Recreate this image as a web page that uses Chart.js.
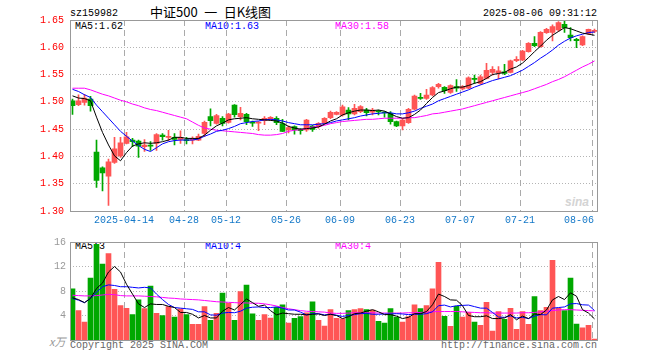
<!DOCTYPE html>
<html>
<head>
<meta charset="utf-8">
<script src="https://cdn.jsdelivr.net/npm/chart.js@4.4.1/dist/chart.umd.min.js"></script>
<style>
body { margin: 0; background: #fff; }
#wrap { position: relative; width: 660px; height: 360px; overflow: hidden; font-family: "Liberation Mono", monospace; font-size: 10px; }
canvas { position: absolute; left: 0; }
.t { position: absolute; white-space: pre; line-height: 10px; }
</style>
</head>
<body>
<div id="wrap">
  <div class="t" style="left:70px;top:9px">sz159982</div>
  <div class="t" style="left:150px;top:5px;font:13px/13px 'Noto Sans CJK SC',sans-serif">中证500&ensp;一&ensp;日K线图</div>
  <div class="t" style="left:483px;top:9px">2025-08-06 09:31:12</div>
  <div class="t" style="left:75px;top:22px;color:#000">MA5:1.62</div>
  <div class="t" style="left:205px;top:22px;color:#00f">MA10:1.63</div>
  <div class="t" style="left:335px;top:22px;color:#f0f">MA30:1.58</div>
  <div class="t" style="left:565px;top:196px;color:#d4d4d4;font:bold italic 12px/12px 'Liberation Sans',sans-serif">sina</div>
  <div class="t" style="left:75px;top:242px;color:#000">MA5:3</div>
  <div class="t" style="left:205px;top:242px;color:#00f">MA10:4</div>
  <div class="t" style="left:335px;top:242px;color:#f0f">MA30:4</div>
  <div class="t" style="left:49px;top:336px;color:#999;font:italic 11px/11px 'Noto Sans CJK SC',serif">x万</div>
  <div class="t" style="left:70px;top:341px;color:#666">Copyright 2025 SINA.COM</div>
  <div class="t" style="left:441px;top:341px;color:#666">http://finance.sina.com.cn</div>
  <canvas id="price" width="660" height="235" style="top:0"></canvas>
  <canvas id="vol" width="660" height="128" style="top:232px"></canvas>
</div>
<script>
const dates = ['2025-03-31','2025-04-01','2025-04-02','2025-04-03','2025-04-07','2025-04-08','2025-04-09','2025-04-10','2025-04-11','2025-04-14',
  '2025-04-15','2025-04-16','2025-04-17','2025-04-18','2025-04-21','2025-04-22','2025-04-23','2025-04-24','2025-04-25','2025-04-28',
  '2025-04-29','2025-04-30','2025-05-06','2025-05-07','2025-05-08','2025-05-09','2025-05-12','2025-05-13','2025-05-14','2025-05-15',
  '2025-05-16','2025-05-19','2025-05-20','2025-05-21','2025-05-22','2025-05-23','2025-05-26','2025-05-27','2025-05-28','2025-05-29',
  '2025-05-30','2025-06-03','2025-06-04','2025-06-05','2025-06-06','2025-06-09','2025-06-10','2025-06-11','2025-06-12','2025-06-13',
  '2025-06-16','2025-06-17','2025-06-18','2025-06-19','2025-06-20','2025-06-23','2025-06-24','2025-06-25','2025-06-26','2025-06-27',
  '2025-06-30','2025-07-01','2025-07-02','2025-07-03','2025-07-04','2025-07-07','2025-07-08','2025-07-09','2025-07-10','2025-07-11',
  '2025-07-14','2025-07-15','2025-07-16','2025-07-17','2025-07-18','2025-07-21','2025-07-22','2025-07-23','2025-07-24','2025-07-25',
  '2025-07-28','2025-07-29','2025-07-30','2025-07-31','2025-08-01','2025-08-04','2025-08-05','2025-08-06']

const tickDates = ['2025-04-14','2025-04-28','2025-05-12','2025-05-26','2025-06-09','2025-06-23','2025-07-07','2025-07-21','2025-08-06']

const opens = [1.502,1.495,1.499,1.505,1.408,1.379,1.364,1.389,1.401,1.424,
  1.430,1.428,1.418,1.421,1.424,1.439,1.435,1.435,1.431,1.431,
  1.430,1.430,1.442,1.4728,1.4606,1.470,1.4624,1.494,1.473,1.477,
  1.4625,1.461,1.4655,1.4686,1.470,1.460,1.4484,1.4545,1.4497,1.4484,
  1.4557,1.4545,1.4607,1.471,1.477,1.476,1.485,1.4777,1.482,1.485,
  1.481,1.4825,1.4805,1.479,1.4637,1.456,1.4618,1.4864,1.5074,1.5064,
  1.5126,1.5278,1.5266,1.5174,1.528,1.5236,1.525,1.543,1.534,1.543,
  1.554,1.553,1.555,1.554,1.5755,1.5767,1.592,1.6073,1.6012,1.6268,
  1.6274,1.6317,1.642,1.6225,1.6146,1.6042,1.6256,1.629]
const closes = [1.493,1.502,1.507,1.493,1.356,1.370,1.390,1.414,1.425,1.436,
  1.427,1.419,1.421,1.419,1.440,1.436,1.437,1.431,1.435,1.429,
  1.432,1.437,1.4625,1.4655,1.4747,1.4606,1.4777,1.4765,1.479,1.4636,
  1.461,1.462,1.470,1.4716,1.462,1.446,1.4527,1.4484,1.4472,1.4667,
  1.4497,1.4607,1.470,1.4808,1.4808,1.491,1.4777,1.488,1.4912,1.480,
  1.485,1.4815,1.4795,1.4637,1.456,1.4667,1.4864,1.5107,1.5064,1.5126,
  1.526,1.532,1.5205,1.5297,1.525,1.528,1.544,1.541,1.546,1.558,
  1.5596,1.557,1.552,1.575,1.578,1.593,1.6073,1.603,1.6274,1.6329,
  1.6378,1.6451,1.636,1.6176,1.6122,1.6195,1.6329,1.631]
const highs = [1.505,1.513,1.514,1.510,1.430,1.381,1.395,1.435,1.435,1.444,
  1.433,1.430,1.431,1.427,1.442,1.442,1.448,1.442,1.447,1.435,
  1.436,1.441,1.465,1.487,1.477,1.473,1.479,1.495,1.490,1.479,
  1.465,1.464,1.473,1.473,1.473,1.468,1.456,1.456,1.451,1.468,
  1.457,1.462,1.471,1.483,1.482,1.4943,1.4893,1.4954,1.493,1.488,
  1.488,1.485,1.482,1.482,1.465,1.4685,1.488,1.5126,1.5156,1.523,
  1.528,1.534,1.5278,1.531,1.541,1.530,1.546,1.549,1.549,1.5706,
  1.5645,1.5645,1.5687,1.5765,1.5828,1.5945,1.6085,1.6195,1.6286,1.6348,
  1.641,1.647,1.6488,1.636,1.6164,1.621,1.6335,1.6335]
const lows = [1.477,1.493,1.494,1.483,1.343,1.337,1.310,1.387,1.398,1.423,
  1.418,1.398,1.409,1.411,1.411,1.430,1.429,1.421,1.424,1.423,
  1.423,1.429,1.436,1.456,1.459,1.456,1.461,1.472,1.467,1.458,
  1.455,1.447,1.458,1.466,1.458,1.4453,1.443,1.441,1.441,1.446,
  1.446,1.452,1.459,1.469,1.476,1.474,1.4667,1.476,1.480,1.4741,
  1.476,1.476,1.472,1.459,1.4545,1.4484,1.4606,1.4852,1.5046,1.5046,
  1.511,1.525,1.5156,1.5156,1.519,1.522,1.524,1.534,1.532,1.542,
  1.549,1.542,1.550,1.553,1.5737,1.5755,1.591,1.6012,1.600,1.6256,
  1.6115,1.629,1.6274,1.6115,1.5993,1.603,1.623,1.627]

const ma5 = [1.511,1.507,1.506,1.502,1.472,1.444,1.421,1.401,1.392,1.407,
  1.419,1.423,1.425,1.424,1.425,1.427,1.430,1.435,1.435,1.433,
  1.433,1.433,1.439,1.448,1.456,1.461,1.467,1.469,1.470,1.471,
  1.469,1.468,1.467,1.466,1.465,1.461,1.455,1.452,1.450,1.451,
  1.452,1.454,1.459,1.465,1.469,1.476,1.480,1.483,1.485,1.485,
  1.484,1.485,1.483,1.478,1.473,1.470,1.471,1.477,1.485,1.497,
  1.508,1.517,1.520,1.524,1.527,1.527,1.530,1.534,1.537,1.543,
  1.550,1.552,1.554,1.560,1.564,1.571,1.581,1.592,1.602,1.613,
  1.622,1.629,1.636,1.634,1.630,1.626,1.624,1.622]
const ma10 = [1.523,1.519,1.513,1.508,1.494,1.482,1.470,1.458,1.446,1.437,
  1.428,1.420,1.413,1.409,1.416,1.423,1.427,1.429,1.430,1.430,
  1.430,1.432,1.437,1.441,1.446,1.448,1.451,1.455,1.460,1.462,
  1.464,1.465,1.467,1.468,1.467,1.465,1.462,1.460,1.458,1.458,
  1.458,1.459,1.460,1.462,1.465,1.467,1.469,1.471,1.474,1.476,
  1.478,1.479,1.480,1.480,1.478,1.478,1.480,1.483,1.488,1.492,
  1.496,1.502,1.506,1.510,1.514,1.518,1.522,1.527,1.531,1.535,
  1.539,1.542,1.545,1.548,1.553,1.558,1.565,1.572,1.580,1.587,
  1.595,1.604,1.611,1.617,1.621,1.624,1.627,1.628]
const ma30 = [1.525,1.525,1.525,1.522,1.518,1.514,1.511,1.507,1.503,1.500,
  1.496,1.493,1.489,1.486,1.484,1.481,1.478,1.475,1.472,1.469,
  1.463,1.457,1.452,1.450,1.448,1.447,1.446,1.445,1.444,1.443,
  1.442,1.440,1.439,1.439,1.440,1.442,1.446,1.448,1.449,1.451,
  1.454,1.455,1.457,1.460,1.462,1.464,1.465,1.466,1.467,1.468,
  1.468,1.469,1.470,1.470,1.470,1.470,1.471,1.471,1.473,1.475,
  1.478,1.479,1.481,1.483,1.485,1.487,1.490,1.493,1.496,1.499,
  1.502,1.505,1.508,1.511,1.514,1.517,1.520,1.524,1.528,1.532,
  1.537,1.541,1.546,1.552,1.558,1.564,1.569,1.575]

// volume, x万
const vol = [8.37,4.8,2.93,10.1,15.6,12.4,14.1,8.27,5.6,5.17,
  4.16,6.56,5.12,8.8,4.37,4.0,5.44,3.73,5.07,4.16,
  2.56,2.56,5.44,3.2,4.37,7.68,5.97,3.2,7.9,8.96,
  4.27,3.2,4.16,3.57,5.33,5.76,2.77,3.52,3.84,4.43,
  6.24,3.2,2.29,4.96,3.52,3.47,4.8,4.96,5.12,4.96,
  4.9,3.06,2.75,5.12,3.73,2.93,3.84,5.76,5.12,5.6,
  8.37,12.7,3.86,2.24,5.5,3.73,4.5,2.93,2.4,6.13,
  1.44,4.64,3.36,5.17,1.76,4.64,2.56,7.09,4.8,5.33,
  13.0,5.17,4.8,10.1,2.61,1.97,2.4,0.16]
const volMa5 = [6.9,6.6,6.1,6.8,8.4,9.3,11.1,12.0,11.1,9.1,
  7.5,5.9,5.3,5.9,5.8,5.8,5.5,5.3,4.5,4.5,
  4.2,3.6,4.0,3.6,3.6,4.7,5.3,4.9,5.8,6.7,
  6.1,5.5,5.7,4.8,4.1,4.4,4.3,4.2,4.2,4.1,
  4.2,4.25,4.0,4.2,4.0,3.5,3.8,4.3,4.4,4.7,
  4.95,4.6,4.15,4.15,3.9,3.5,3.7,4.3,4.3,4.65,
  5.75,7.5,7.1,6.55,6.5,5.6,4.0,3.8,3.8,3.95,
  3.5,3.5,3.6,4.15,3.3,3.9,3.5,4.25,4.15,4.9,
  6.55,7.1,6.6,7.7,7.15,4.95,4.4,3.45]
const volMa10 = [6.8,6.5,6.1,6.8,7.8,8.7,9.0,8.9,8.7,8.7,
  8.6,8.5,8.6,8.5,7.5,6.6,5.8,5.3,5.2,5.1,
  5.0,4.6,4.6,4.1,4.05,4.4,4.5,4.45,4.7,5.2,
  5.35,5.4,5.3,5.3,5.4,5.2,4.9,4.9,4.55,4.1,
  4.3,4.3,4.1,4.2,4.05,3.85,4.0,4.15,4.3,4.35,
  4.2,4.2,4.25,4.25,4.3,4.25,4.15,4.2,4.2,4.3,
  4.6,5.6,5.7,5.4,5.6,5.65,5.7,5.45,5.2,5.2,
  4.5,3.75,3.7,3.95,3.6,3.7,3.5,3.9,4.15,4.1,
  5.2,5.3,5.4,5.9,5.95,5.75,5.7,4.8]
const volMa30 = [7.3,7.25,7.2,7.2,7.25,7.35,7.45,7.4,7.25,7.2,
  7.2,7.2,7.15,7.1,7.05,6.95,6.85,6.8,6.7,6.65,
  6.6,6.55,6.45,6.35,6.25,6.2,6.15,6.1,6.05,6.05,
  6.0,6.0,5.9,5.75,5.55,5.3,5.1,4.95,4.8,4.7,
  4.65,4.6,4.55,4.4,4.35,4.35,4.4,4.45,4.45,4.45,
  4.45,4.4,4.4,4.4,4.4,4.4,4.45,4.45,4.5,4.55,
  4.6,4.65,4.65,4.65,4.65,4.6,4.55,4.5,4.45,4.45,
  4.4,4.4,4.4,4.4,4.4,4.45,4.45,4.5,4.6,4.7,
  4.8,4.9,4.95,4.95,4.9,4.85,4.8,4.75]

const priceLevels = [1.35, 1.40, 1.45, 1.50, 1.55, 1.60]
const volLevels = [4, 8, 12]

const RED = '#ff5555'
const GREEN = '#00a800'
const FONT = { family: "'Liberation Mono', monospace", size: 10 }
// candle k sits 2.5px right of its slot edge, slots are 6px
const HALF = 2.5 / 6
const X_MIN = -HALF
const X_MAX = dates.length - 0.5

const colors = opens.map((o, i) => closes[i] >= o ? RED : GREEN)
const tickIdx = tickDates.map(d => dates.indexOf(d))

function line(arr, color) {
  return {
    type: 'line',
    data: arr.map((v, i) => ({ x: i, y: v })),
    borderColor: color,
    borderWidth: 1,
    pointRadius: 0,
    tension: 0
  }
}

const gridPlugin = {
  id: 'panelGrid',
  beforeDatasetsDraw(chart, args, opts) {
    const { ctx, chartArea: a, scales } = chart
    ctx.save()
    ctx.lineWidth = 1
    ctx.strokeStyle = '#b4b4b4'
    ctx.setLineDash([1, 2])
    opts.levels.forEach(v => {
      const py = Math.floor(scales.y.getPixelForValue(v)) + 0.5
      ctx.beginPath(); ctx.moveTo(a.left, py); ctx.lineTo(a.right, py); ctx.stroke()
    })
    ctx.strokeStyle = '#aaaaaa'
    ctx.setLineDash([6, 4])
    tickIdx.forEach(i => {
      const px = Math.floor(scales.x.getPixelForValue(i - HALF)) + 0.5
      ctx.beginPath(); ctx.moveTo(px, a.top); ctx.lineTo(px, a.bottom); ctx.stroke()
    })
    ctx.restore()
  },
  afterDatasetsDraw(chart) {
    const { ctx, chartArea: a } = chart
    ctx.save()
    ctx.strokeStyle = '#999999'
    ctx.lineWidth = 1
    const l = Math.floor(a.left) + 0.5, r = Math.floor(a.right) + 0.5
    const t = Math.floor(a.top) + 0.5, b = Math.floor(a.bottom) + 0.5
    ctx.strokeRect(l, t, r - l, b - t)
    ctx.restore()
  }
}

Chart.defaults.animation = false

new Chart(document.getElementById('price'), {
  type: 'bar',
  data: {
    datasets: [
      line(ma5, '#000000'),
      line(ma10, '#0000ff'),
      line(ma30, '#ff00ff'),
      {
        data: opens.map((o, i) => ({ x: i, y: [o, closes[i]] })),
        backgroundColor: colors, barThickness: 5, minBarLength: 1, grouped: false
      },
      {
        data: lows.map((l, i) => ({ x: i, y: [l, highs[i]] })),
        backgroundColor: colors, barThickness: 1, minBarLength: 1, grouped: false
      }
    ]
  },
  options: {
    responsive: false,
    layout: { padding: { left: 0, right: 62.5, top: 20, bottom: 0 } },
    plugins: { legend: { display: false }, tooltip: { enabled: false }, panelGrid: { levels: priceLevels } },
    scales: {
      x: {
        type: 'linear', min: X_MIN, max: X_MAX, offset: false,
        grid: { display: false, drawTicks: false, offset: false }, border: { display: false },
        afterFit: s => { s.height = 24 },
        afterBuildTicks: s => {
          s.ticks = tickIdx.map(i => ({ value: Math.min(i - HALF, X_MAX - 18.5 / 6) }))
        },
        ticks: {
          autoSkip: false, maxRotation: 0, padding: 3, color: '#1478c8', font: FONT,
          callback: (v, n) => n === 0 ? tickDates[0] : tickDates[n].slice(5)
        }
      },
      y: {
        min: 1.30, max: 1.65,
        grid: { display: false, drawTicks: false }, border: { display: false },
        afterFit: s => { s.width = 70 },
        ticks: { stepSize: 0.05, padding: 6, color: '#ff0000', font: FONT, callback: v => v.toFixed(2) }
      }
    }
  },
  plugins: [gridPlugin]
})

new Chart(document.getElementById('vol'), {
  type: 'bar',
  data: {
    datasets: [
      line(volMa5, '#000000'),
      line(volMa10, '#0000ff'),
      line(volMa30, '#ff00ff'),
      {
        data: vol.map((v, i) => ({ x: i, y: v })),
        backgroundColor: colors, barThickness: 5, grouped: false
      }
    ]
  },
  options: {
    responsive: false,
    layout: { padding: { left: 0, right: 62.5, top: 8, bottom: 20 } },
    plugins: { legend: { display: false }, tooltip: { enabled: false }, panelGrid: { levels: volLevels } },
    scales: {
      x: { type: 'linear', min: X_MIN, max: X_MAX, offset: false, display: false },
      y: {
        min: 0, max: 16,
        grid: { display: false, drawTicks: false }, border: { display: false },
        afterFit: s => { s.width = 70 },
        ticks: { stepSize: 4, padding: 4, color: '#999999', font: FONT, callback: v => v === 0 ? '' : v }
      }
    }
  },
  plugins: [gridPlugin]
})
</script>
</body>
</html>
